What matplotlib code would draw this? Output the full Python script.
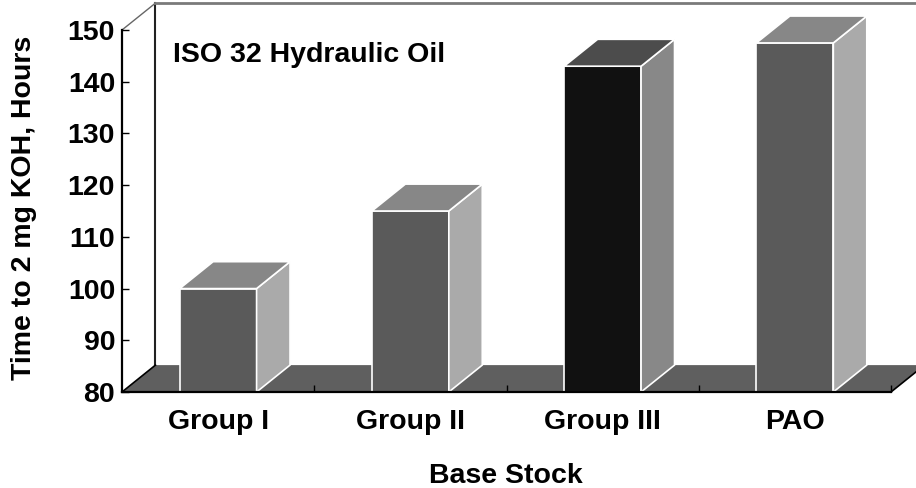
import numpy as np
import matplotlib
matplotlib.use("Agg")
import matplotlib.pyplot as plt
from matplotlib.patches import Polygon

plt.rcParams['font.family'] = ['Liberation Sans', 'DejaVu Sans']
plt.rcParams['font.weight'] = 'bold'

categories = ["Group I", "Group II", "Group III", "PAO"]
hours = [100, 115, 143, 147.5]
front_colors = ["#5a5a5a", "#5a5a5a", "#111111", "#5a5a5a"]
side_colors = ["#aaaaaa", "#aaaaaa", "#888888", "#aaaaaa"]
top_colors = ["#878787", "#878787", "#4c4c4c", "#878787"]

y_min, y_max = 80, 150
bar_w = 0.40
fs = 20.5
# depth of the fake 3D box, in data units
dx, dy = 0.174, 5.2

fig = plt.figure(figsize=(9.16, 4.88), dpi=100)
ax = fig.add_axes([122 / 916, 96 / 488, 769 / 916, 362 / 488])
ax.set_xlim(-0.5, len(categories) - 0.5)
ax.set_ylim(y_min, y_max)

x = np.arange(len(categories))
x0, x1 = -0.5, len(categories) - 0.5

# floor
floor = Polygon([(x0, y_min), (x1, y_min), (x1 + dx, y_min + dy), (x0 + dx, y_min + dy)],
                closed=True, facecolor="#5f5f5f", edgecolor="none", zorder=1, clip_on=False)
ax.add_patch(floor)
ax.plot([x0, x0 + dx], [y_min, y_min + dy], color="black", lw=1.2, zorder=2, clip_on=False)
ax.plot([x1, x1 + dx], [y_min, y_min + dy], color="black", lw=1.2, zorder=2, clip_on=False)

# back wall edges
ax.plot([x0 + dx, x0 + dx], [y_min + dy, y_max + dy], color="#222222", lw=1.5, zorder=1, clip_on=False)
ax.plot([x0, x0 + dx], [y_max, y_max + dy], color="#666666", lw=1.0, zorder=1, clip_on=False)
ax.plot([x0 + dx, x1 + dx + 0.2], [y_max + dy, y_max + dy], color="#7a7a7a", lw=2.0, zorder=1, clip_on=False)

# front faces
ax.bar(x, np.array(hours) - y_min, bottom=y_min, width=bar_w, color=front_colors,
       edgecolor="white", linewidth=1.2, zorder=3)

# side and top faces
for xi, h, sc, tc in zip(x, hours, side_colors, top_colors):
    l, r = xi - bar_w / 2, xi + bar_w / 2
    side = Polygon([(r, y_min), (r + dx, y_min + dy), (r + dx, h + dy), (r, h)],
                   closed=True, facecolor=sc, edgecolor="white", lw=1.2, zorder=3, clip_on=False)
    top = Polygon([(l, h), (r, h), (r + dx, h + dy), (l + dx, h + dy)],
                  closed=True, facecolor=tc, edgecolor="white", lw=1.2, zorder=3, clip_on=False)
    ax.add_patch(side)
    ax.add_patch(top)

for s in ["top", "right"]:
    ax.spines[s].set_visible(False)
for s in ["left", "bottom"]:
    ax.spines[s].set_linewidth(1.6)
    ax.spines[s].set_zorder(4)

ax.set_yticks(np.arange(80, 151, 10))
ax.tick_params(axis="y", direction="in", length=5, width=1, pad=5, labelsize=fs)
ax.set_xticks(np.arange(0.5, len(categories), 1.0))
ax.set_xticklabels([])
ax.set_xticks(x, minor=True)
ax.set_xticklabels(categories, minor=True)
ax.tick_params(axis="x", which="major", direction="in", length=5, width=1)
ax.tick_params(axis="x", which="minor", length=0, pad=12, labelsize=fs)

ax.text(0.066, 0.9116, "ISO 32 Hydraulic Oil", transform=ax.transAxes,
        fontsize=fs, fontweight="bold", va="baseline", ha="left")

fig.text(24 / 916, 0.574, "Time to 2 mg KOH, Hours", rotation=90, fontsize=fs,
         fontweight="bold", ha="center", va="center")
fig.text(506 / 916, 5 / 488, "Base Stock", fontsize=fs, fontweight="bold",
         ha="center", va="baseline")

fig.savefig("out.png", dpi=100)
